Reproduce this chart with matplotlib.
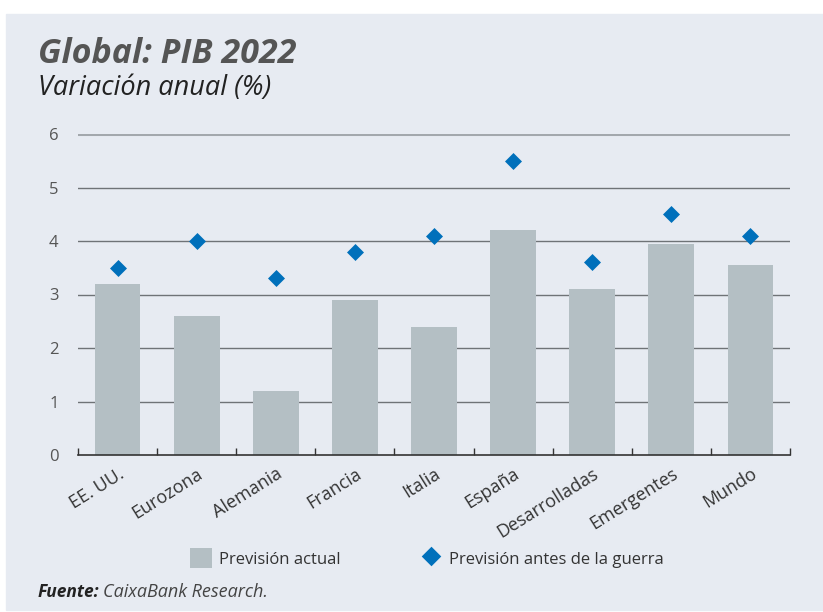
import numpy as np
import matplotlib.pyplot as plt
from matplotlib.patches import Rectangle

# datos
categorias = ["EE. UU.", "Eurozona", "Alemania", "Francia", "Italia",
              "España", "Desarrolladas", "Emergentes", "Mundo"]
prevision_actual = [3.2, 2.6, 1.2, 2.9, 2.4, 4.2, 3.1, 3.95, 3.55]
prevision_antes_guerra = [3.5, 4.0, 3.3, 3.8, 4.1, 5.5, 3.6, 4.5, 4.1]
yticks = [0, 1, 2, 3, 4, 5, 6]

fondo = "#e7ebf2"
gris_barra = "#b4bfc4"
azul = "#0070bb"

plt.rcParams["font.family"] = ["Open Sans", "DejaVu Sans"]

fig = plt.figure(figsize=(8.23, 6.12), dpi=100)
W, H = 823, 612
fig.patches.append(Rectangle((6 / W, 2 / H), 1 - 6 / W, 1 - 16 / H,
                             transform=fig.transFigure, color=fondo, zorder=-10))

ax = fig.add_axes([78 / W, 1 - 455 / H, (790 - 78) / W, (455 - 134) / H])
ax.patch.set_alpha(0)

x = np.arange(len(categorias))
barras = ax.bar(x, prevision_actual, width=0.58, color=gris_barra, zorder=2)
puntos = ax.scatter(x, prevision_antes_guerra, marker="D", s=75, color=azul,
                    zorder=3, linewidths=0)

ax.set_xlim(-0.5, len(categorias) - 0.5)
ax.set_ylim(0, 6)

# líneas de cuadrícula
for v in yticks[1:]:
    if v == 6:
        ax.axhline(v, color="#a3a8ad", lw=2.2, zorder=1)
    else:
        ax.axhline(v, color="#6f7377", lw=1.0, zorder=1)

for s in ["top", "right", "left"]:
    ax.spines[s].set_visible(False)
ax.spines["bottom"].set_color("#333333")
ax.spines["bottom"].set_linewidth(1.2)
ax.spines["bottom"].set_zorder(4)

ax.set_yticks(yticks)
ax.set_yticklabels([str(v) for v in yticks], fontsize=12, color="#555555")
ax.tick_params(axis="y", length=0, pad=14)

# ticks menores entre categorías
ax.set_xticks(np.arange(-0.5, len(categorias), 1.0), minor=True)
ax.tick_params(axis="x", which="minor", direction="in", length=5,
               width=1.0, color="#333333")
ax.set_xticks(x)
ax.set_xticklabels(categorias, rotation=32, ha="right",
                   rotation_mode="anchor", fontsize=13, color="#333333")
ax.tick_params(axis="x", which="major", length=0, pad=7)

# títulos
fig.text(38 / W, 1 - 63 / H, "Global: PIB 2022", fontsize=24.5,
         fontweight="bold", fontstyle="italic", color="#555555")
fig.text(38 / W, 1 - 95 / H, "Variación anual (%)", fontsize=19.5,
         fontstyle="italic", color="#222222")

leg = fig.legend([barras, puntos],
                 ["Previsión actual", "Previsión antes de la guerra"],
                 loc="center", bbox_to_anchor=(427 / W, 1 - 558 / H), ncol=2,
                 frameon=False, fontsize=12, columnspacing=4.8,
                 handlelength=1.3, handleheight=1.4, handletextpad=0.4,
                 markerscale=1.15)
for t in leg.get_texts():
    t.set_color("#333333")

fig.text(38 / W, 1 - 597 / H, "Fuente:", fontsize=12.5, fontweight="bold",
         fontstyle="italic", color="#222222")
fig.text(103 / W, 1 - 597 / H, "CaixaBank Research.", fontsize=13,
         fontstyle="italic", color="#444444")

fig.savefig("out.png", dpi=100)
